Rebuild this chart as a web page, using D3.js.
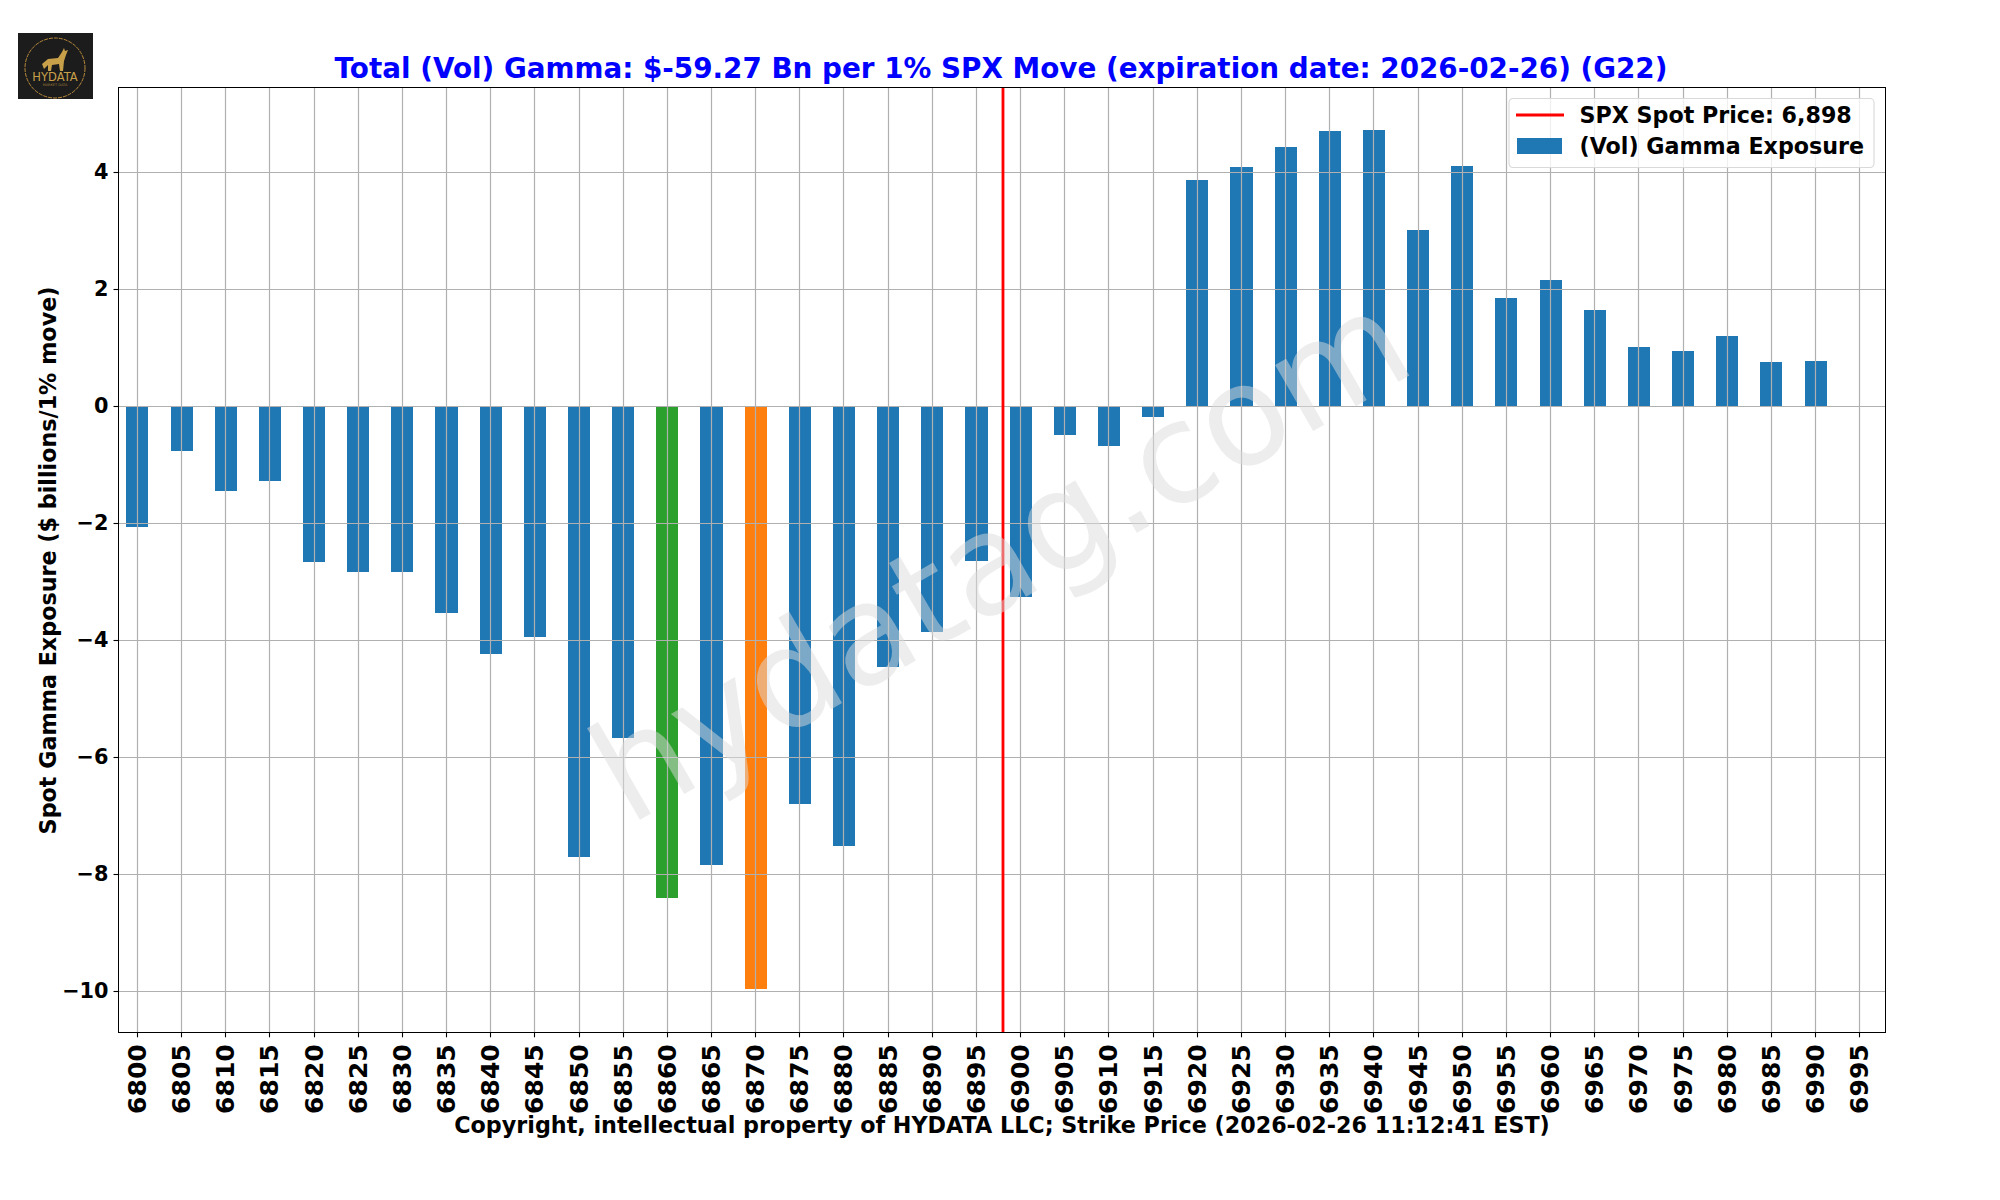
<!DOCTYPE html>
<html>
<head>
<meta charset="utf-8">
<script src="https://cdn.jsdelivr.net/npm/d3@7"></script>
<style>
  html, body { margin: 0; padding: 0; background: white; }
  text { font-family: "DejaVu Sans"; font-weight: bold; }
</style>
</head>
<body>
<svg id="chart" width="2000" height="1200"></svg>
<script>
// strikes and gamma exposure ($ bn)
var strikes = [6800, 6805, 6810, 6815, 6820, 6825, 6830, 6835, 6840, 6845,
    6850, 6855, 6860, 6865, 6870, 6875, 6880, 6885, 6890, 6895,
    6900, 6905, 6910, 6915, 6920, 6925, 6930, 6935, 6940, 6945,
    6950, 6955, 6960, 6965, 6970, 6975, 6980, 6985, 6990, 6995]
var gamma = [-2.07, -0.76, -1.44, -1.27, -2.66, -2.84, -2.83, -3.54, -4.23, -3.94,
    -7.70, -5.67, -8.40, -7.84, -9.96, -6.79, -7.51, -4.46, -3.85, -2.645,
    -3.26, -0.49, -0.68, -0.18, 3.87, 4.09, 4.43, 4.71, 4.72, 3.01,
    4.11, 1.85, 2.16, 1.65, 1.01, 0.945, 1.20, 0.76, 0.775, 0]
var yTicks = [-10, -8, -6, -4, -2, 0, 2, 4]
var spotPrice = 6898
var greenStrike = 6860
var orangeStrike = 6870

var margin = { top: 87.3, right: 114.3, bottom: 167.7, left: 118.5 },
    width = 2000 - margin.left - margin.right,
    height = 1200 - margin.top - margin.bottom

var svg = d3.select('#chart')

var x = d3.scaleLinear().domain([6797.86, 6997.94]).range([0, width])
var y = d3.scaleLinear().domain([-10.70, 5.453]).range([height, 0])
var barWidth = x(6802.5) - x(6800)

// keep thin lines on whole pixels
function snapX(v) { return Math.round(x(v) + margin.left - 0.5) + 0.5 - margin.left }
function snapY(v) { return Math.round(y(v) + margin.top - 0.5) + 0.5 - margin.top }

var g = svg.append('g').attr('transform', 'translate(' + margin.left + ',' + margin.top + ')')

// bars
g.selectAll('rect.bar')
    .data(strikes.map(function (s, i) { return { strike: s, value: gamma[i] } }))
    .enter()
    .append('rect')
    .attr('class', 'bar')
    .attr('shape-rendering', 'crispEdges')
    .attr('x', function (d) { return x(d.strike) - barWidth / 2 })
    .attr('width', barWidth)
    .attr('y', function (d) { return y(Math.max(0, d.value)) })
    .attr('height', function (d) { return Math.abs(y(d.value) - y(0)) })
    .attr('fill', function (d) {
        if (d.strike == greenStrike) return '#2ca02c'
        if (d.strike == orangeStrike) return '#ff7f0e'
        return '#1f77b4'
    })

// grid on top of the bars
var xAxis = d3.axisBottom(x).tickValues(strikes).tickFormat(d3.format('d')).tickSize(5).tickPadding(5)
var yAxis = d3.axisLeft(y).tickValues(yTicks).tickFormat(function (d) { return String(d).replace('-', '\u2212') }).tickSize(5).tickPadding(5)

g.selectAll('line.gridx').data(strikes).enter().append('line')
    .attr('x1', snapX).attr('x2', snapX)
    .attr('y1', 0).attr('y2', height)
    .attr('stroke', '#b0b0b0').attr('stroke-width', 1.2)
g.selectAll('line.gridy').data(yTicks).enter().append('line')
    .attr('y1', snapY).attr('y2', snapY)
    .attr('x1', 0).attr('x2', width)
    .attr('stroke', '#b0b0b0').attr('stroke-width', 1.2)

// spot price
g.append('line')
    .attr('x1', x(spotPrice)).attr('x2', x(spotPrice))
    .attr('y1', 0).attr('y2', height)
    .attr('stroke', 'red').attr('stroke-width', 2.8)

// watermark sits over bars, grid and spot line
g.append('text')
    .attr('transform', 'translate(' + (629 - margin.left) + ',' + (826 - margin.top) + ') rotate(-30)')
    .attr('font-size', 139)
    .style('font-weight', 'normal')
    .attr('fill', '#dcdcdc').attr('fill-opacity', 0.5)
    .text('hydatag.com')

// axes
var xg = g.append('g').attr('transform', 'translate(0,' + height + ')').call(xAxis)
xg.select('.domain').remove()
xg.selectAll('.tick').attr('transform', function (d) { return 'translate(' + snapX(d) + ',0)' })
xg.selectAll('.tick line').attr('stroke', 'black').attr('stroke-width', 1.1)
xg.selectAll('.tick text')
    .attr('font-size', 25)
    .attr('fill', 'black')
    .attr('text-anchor', 'end')
    .attr('transform', 'rotate(-90)')
    .attr('x', -12).attr('y', 0).attr('dy', '0.33em')

var yg = g.append('g').call(yAxis)
yg.select('.domain').remove()
yg.selectAll('.tick').attr('transform', function (d) { return 'translate(0,' + snapY(d) + ')' })
yg.selectAll('.tick line').attr('stroke', 'black').attr('stroke-width', 1.1)
yg.selectAll('.tick text').attr('font-size', 20.8).attr('fill', 'black')

// frame
g.append('rect').attr('width', width).attr('height', height)
    .attr('fill', 'none').attr('stroke', 'black').attr('stroke-width', 1.3).attr('shape-rendering', 'crispEdges')

// titles
svg.append('text').attr('x', 1001).attr('y', 78).attr('text-anchor', 'middle')
    .attr('font-size', 27.8).attr('fill', 'blue')
    .text('Total (Vol) Gamma: $-59.27 Bn per 1% SPX Move (expiration date: 2026-02-26) (G22)')
svg.append('text').attr('x', 1002).attr('y', 1133).attr('text-anchor', 'middle')
    .attr('font-size', 22.25)
    .text('Copyright, intellectual property of HYDATA LLC; Strike Price (2026-02-26 11:12:41 EST)')
svg.append('text').attr('transform', 'translate(56,' + 560.5 + ') rotate(-90)').attr('text-anchor', 'middle')
    .attr('font-size', 22.25)
    .text('Spot Gamma Exposure ($ billions/1% move)')

// legend
var lg = svg.append('g').attr('transform', 'translate(1509,98.5)')
lg.append('rect').attr('width', 365).attr('height', 69).attr('rx', 4)
    .attr('fill', 'white').attr('fill-opacity', 0.8).attr('stroke', '#d9d9d9').attr('stroke-width', 1.1)
lg.append('line').attr('x1', 7).attr('x2', 55).attr('y1', 16.5).attr('y2', 16.5)
    .attr('stroke', 'red').attr('stroke-width', 2.8)
lg.append('rect').attr('x', 8).attr('y', 39.5).attr('width', 45).attr('height', 16).attr('fill', '#1f77b4')
lg.append('text').attr('x', 70.5).attr('y', 24.5).attr('font-size', 22.2).text('SPX Spot Price: 6,898')
lg.append('text').attr('x', 70.5).attr('y', 55.5).attr('font-size', 22.2).text('(Vol) Gamma Exposure')

// logo
var logo = svg.append('g').attr('transform', 'translate(18,33)')
logo.append('rect').attr('width', 75).attr('height', 66).attr('fill', '#1c1c1c')
logo.append('circle').attr('cx', 37).attr('cy', 35).attr('r', 30)
    .attr('fill', 'none').attr('stroke', '#b8893a').attr('stroke-width', 1).attr('stroke-dasharray', '4 1')
logo.append('path').attr('d', 'M24 31 L30 26 L40 25 L44 19 L46 15 L47 18 L50 17 L48 22 L46 28 L45 38 L42 38 L41 31 L34 32 L33 38 L30 38 L30 32 L26 36 Z')
    .attr('fill', '#c9a04a')
logo.append('text').attr('x', 37).attr('y', 48).attr('text-anchor', 'middle')
    .attr('font-size', 11.5).attr('fill', '#c9a04a').style('font-weight', 'normal').text('HYDATA')
logo.append('text').attr('x', 37).attr('y', 53).attr('text-anchor', 'middle')
    .attr('font-size', 3.5).attr('fill', '#a07f3a').style('font-weight', 'normal').text('MARKET DATA')
</script>
</body>
</html>
